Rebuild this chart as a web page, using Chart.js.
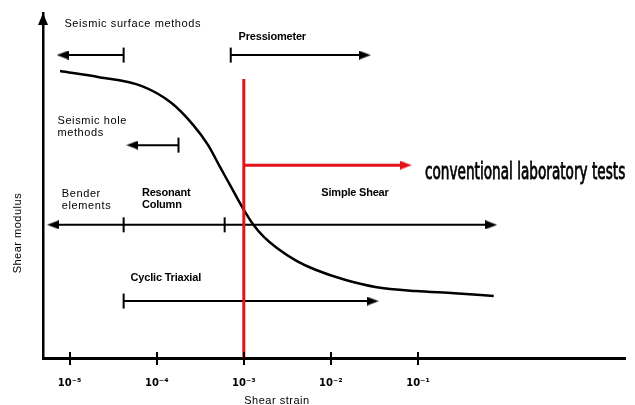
<!DOCTYPE html>
<html>
<head>
<meta charset="utf-8">
<script src="https://cdn.jsdelivr.net/npm/chart.js@4.4.1/dist/chart.umd.min.js"></script>
<style>
  html, body { margin: 0; padding: 0; background: #fff; }
</style>
</head>
<body>
<canvas id="chart" width="635" height="405"></canvas>
<script>
// ── Datos ──  x = log10(shear strain), y = shear modulus (relative)
const strainExp = [-5.11, -4.66, -4.17, -3.83, -3.58, -3.41, -3.28, -3.14, -3.02, -2.89, -2.77, -2.62, -2.39, -2.17, -1.83, -1.49, -1.03, -0.58, -0.13];
const modulus   = [83.2, 81.4, 78.8, 73.9, 67.5, 61.7, 55.7, 49.3, 43.8, 38.6, 35.1, 31.9, 28.1, 25.5, 22.6, 20.6, 19.4, 18.8, 18.0];
const tickExps   = [-5, -4, -3, -2, -1];
const tickLabels = ['10⁻⁵', '10⁻⁴', '10⁻³', '10⁻²', '10⁻¹'];

// ranges covered by each test (log strain), and the level they sit at
const surfaceRange  = [-4.38, -5.08];
const pressioRange  = [-3.15, -1.61];
const holeRange     = [-3.75, -4.28];
const labRange      = [-5.19, -4.38, -3.22, -0.16];
const cyclicRange   = [-4.38, -1.52];
const redLimitX     = [-3.0, -3.0];
const redLimitY     = [80.9, 0];
const convRange     = [-3.0, -1.14];
const rowLevels     = { surface: 87.8, pressio: 87.8, hole: 61.7, lab: 38.6, cyclic: 16.5, conv: 55.9 };

const RED = '#e3121b';

function arrowHead(color) {
  const c = document.createElement('canvas');
  c.width = 12; c.height = 9;
  const g = c.getContext('2d');
  g.fillStyle = color;
  g.beginPath(); g.moveTo(12, 4.5); g.lineTo(0, 0); g.lineTo(0, 9); g.closePath(); g.fill();
  return c;
}
const headBlack = arrowHead('#000');
const headRed = arrowHead(RED);

// marks: 'bar' | 'left' | 'right' | 'none'
function rangeSet(xs, level, marks, color, width) {
  const head = color === RED ? headRed : headBlack;
  return {
    data: xs.map(v => ({ x: v, y: level })),
    borderColor: color, borderWidth: width, tension: 0, clip: false,
    pointStyle: marks.map(m => m === 'bar' ? 'line' : (m === 'none' ? 'circle' : head)),
    pointRotation: marks.map(m => m === 'bar' ? 90 : (m === 'left' ? 180 : 0)),
    pointRadius: marks.map(m => m === 'none' ? 0 : 7.5),
    pointBorderWidth: 2,
    pointBorderColor: color, pointBackgroundColor: color,
    pointHoverRadius: 0, pointHitRadius: 0,
  };
}

const notes = [
  { text: 'Seismic surface methods', x: -5.06, y: 96.8, bold: false },
  { text: 'Pressiometer',            x: -3.06, y: 93.0, bold: true },
  { text: 'Seismic hole',            x: -5.14, y: 68.7, bold: false },
  { text: 'methods',                 x: -5.14, y: 65.2, bold: false },
  { text: 'Bender',                  x: -5.09, y: 47.5, bold: false },
  { text: 'elements',                x: -5.09, y: 44.1, bold: false },
  { text: 'Resonant',                x: -4.17, y: 47.8, bold: true },
  { text: 'Column',                  x: -4.17, y: 44.3, bold: true },
  { text: 'Simple Shear',            x: -2.11, y: 47.8, bold: true },
  { text: 'Cyclic Triaxial',         x: -4.30, y: 23.2, bold: true },
];
const bigNote = { text: 'conventional laboratory tests', x: -0.92, xEnd: 1.38, y: 53.6 };

const notesPlugin = {
  id: 'notes',
  afterDraw(chart) {
    const { ctx, chartArea, scales: { x, y } } = chart;
    ctx.save();
    ctx.fillStyle = '#000';
    ctx.strokeStyle = '#000';

    // flecha del eje y
    const ax = chartArea.left;
    ctx.beginPath();
    ctx.moveTo(ax, chartArea.top);
    ctx.lineTo(ax - 5, chartArea.top + 12);
    ctx.lineTo(ax + 5, chartArea.top + 12);
    ctx.closePath(); ctx.fill();

    // tick marks across the x axis
    ctx.lineWidth = 2;
    tickExps.forEach(v => {
      const px = Math.round(x.getPixelForValue(v));
      ctx.beginPath();
      ctx.moveTo(px, chartArea.bottom - 6);
      ctx.lineTo(px, chartArea.bottom + 7);
      ctx.stroke();
    });

    // labels
    ctx.textBaseline = 'middle';
    ctx.textAlign = 'left';
    notes.forEach(n => {
      ctx.font = (n.bold ? 'bold ' : '') + '11px "Liberation Sans", Arial, sans-serif';
      ctx.letterSpacing = n.bold ? '-0.2px' : '0.6px';
      ctx.fillText(n.text, x.getPixelForValue(n.x), y.getPixelForValue(n.y));
    });

    // big note, squeezed to its width
    ctx.letterSpacing = '0px';
    ctx.font = '23px "Liberation Sans Narrow", "DejaVu Sans Condensed", sans-serif';
    const x0 = x.getPixelForValue(bigNote.x);
    const w = x.getPixelForValue(bigNote.xEnd) - x0;
    const sx = w / ctx.measureText(bigNote.text).width;
    ctx.save();
    ctx.translate(x0, y.getPixelForValue(bigNote.y));
    ctx.scale(sx, 1);
    ctx.lineWidth = 0.8;
    ctx.fillText(bigNote.text, 0, 0);
    ctx.strokeText(bigNote.text, 0, 0);
    ctx.restore();

    // axis titles
    ctx.font = '11px "Liberation Sans", Arial, sans-serif';
    ctx.letterSpacing = '0.5px';
    ctx.textAlign = 'center';
    ctx.fillText('Shear strain', x.getPixelForValue(-2.62), chartArea.bottom + 43);
    ctx.save();
    ctx.translate(chartArea.left - 25, y.getPixelForValue(36.2));
    ctx.rotate(-Math.PI / 2);
    ctx.fillText('Shear modulus', 0, 0);
    ctx.restore();

    ctx.restore();
  }
};

new Chart(document.getElementById('chart').getContext('2d'), {
  type: 'line',
  data: {
    datasets: [
      { data: redLimitX.map((v, i) => ({ x: v, y: redLimitY[i] })), borderColor: RED, borderWidth: 3, pointRadius: 0, clip: false },
      rangeSet(convRange, rowLevels.conv, ['none', 'right'], RED, 3),
      rangeSet(surfaceRange, rowLevels.surface, ['bar', 'left'], '#000', 2),
      rangeSet(pressioRange, rowLevels.pressio, ['bar', 'right'], '#000', 2),
      rangeSet(holeRange, rowLevels.hole, ['bar', 'left'], '#000', 2),
      rangeSet(labRange, rowLevels.lab, ['left', 'bar', 'bar', 'right'], '#000', 2),
      rangeSet(cyclicRange, rowLevels.cyclic, ['bar', 'right'], '#000', 2),
      {
        data: strainExp.map((v, i) => ({ x: v, y: modulus[i] })),
        borderColor: '#000', borderWidth: 2.5, pointRadius: 0,
        cubicInterpolationMode: 'monotone',
      },
    ],
  },
  options: {
    responsive: false,
    animation: false,
    layout: { padding: { top: 13, right: 2, left: 0, bottom: 0 } },
    plugins: { legend: { display: false }, tooltip: { enabled: false } },
    scales: {
      x: {
        type: 'linear', min: -5.306, max: 1.383,
        afterBuildTicks: s => { s.ticks = tickExps.map(v => ({ value: v })); },
        afterFit: s => { s.height = 47; },
        grid: { display: false, drawTicks: false },
        border: { display: true, color: '#000', width: 3 },
        ticks: {
          callback: v => tickLabels[tickExps.indexOf(v)],
          font: { family: 'DejaVu Sans', size: 10, weight: 'bold' },
          color: '#000', padding: 19, maxRotation: 0, autoSkip: false,
        },
      },
      y: {
        min: 0, max: 100,
        afterFit: s => { s.width = 43; },
        grid: { display: false },
        border: { display: true, color: '#000', width: 2.5 },
        ticks: { display: false },
      },
    },
  },
  plugins: [notesPlugin],
});
</script>
</body>
</html>
